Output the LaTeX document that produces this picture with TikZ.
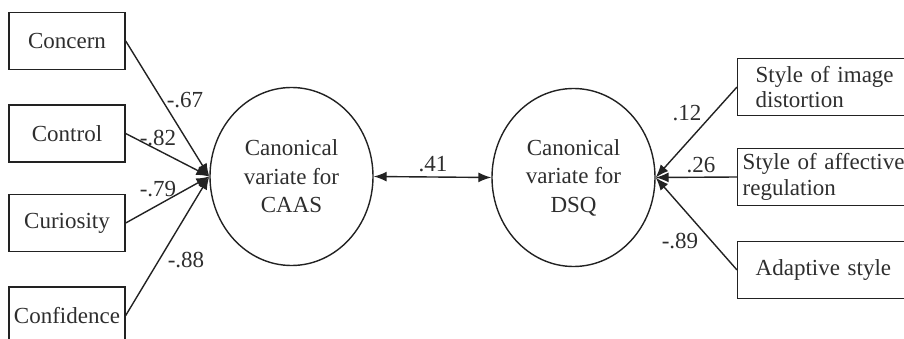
\documentclass[tikz,border=0pt]{standalone}
\usepackage{fontspec}
\setmainfont{Liberation Serif}
\usetikzlibrary{arrows.meta,shapes.geometric}
\definecolor{ink}{HTML}{222222}
\definecolor{txt}{HTML}{2E2E2E}
\tikzset{
  leftbox/.style={draw=ink, line width=1.4pt, minimum width=116pt, minimum height=57pt, inner sep=0pt, text=txt, font=\fontsize{23}{27}\selectfont},
  rightbox/.style={draw=ink, line width=1.4pt, anchor=west, minimum height=57pt, text width=185pt, align=left, inner ysep=0pt, text=txt, font=\fontsize{23}{25.5}\selectfont},
  latent/.style={draw=ink, line width=1.4pt, ellipse, inner sep=0pt, minimum width=163pt, minimum height=178pt, align=center, text=txt, font=\fontsize{23}{28.5}\selectfont},
  path/.style={draw=ink, line width=1.4pt, -{Latex[length=13pt,width=10pt]}},
  coef/.style={text=txt, inner sep=0pt, font=\fontsize{23}{27}\selectfont}
}
\begin{document}
\begin{tikzpicture}[x=1pt,y=-1pt]
\useasboundingbox (0,0) rectangle (904,339);
% left indicator boxes
\node[leftbox] (concern) at (67,41) {Concern};
\node[leftbox] (control) at (67,133.5) {Control};
\node[leftbox] (curiosity) at (67,223) {Curiosity};
\node[leftbox] (confidence) at (67,315.5) {Confidence};
% latent variates
\node[latent] (caas) at (291.5,176.5) {Canonical\\variate for\\CAAS};
\node[latent] (dsq) at (573.5,177.5) {Canonical\\variate for\\DSQ};
% right indicator boxes
\node[rightbox, inner xsep=18pt] (image) at (737,87) {Style of image\\distortion};
\node[rightbox, inner xsep=5pt] (affective) at (737,177) {Style of affective\\regulation};
\node[rightbox, inner xsep=18pt] (adaptive) at (737,270) {Adaptive style};
% paths
\draw[path] (concern.east) -- (caas.west);
\draw[path] (control.east) -- (caas.west);
\draw[path] (curiosity.east) -- (caas.west);
\draw[path] (confidence.east) -- (caas.west);
\draw[path] (image.west) -- (dsq.east);
\draw[path] (affective.west) -- (dsq.east);
\draw[path] (adaptive.west) -- (dsq.east);
\draw[draw=ink, line width=1.4pt, {Latex[length=13pt,width=10pt]}-{Latex[length=13pt,width=10pt]}] (caas.east) -- (dsq.west);
% coefficients
\node[coef] (c1) at (185,100) {-.67};
\node[coef] (c2) at (158,138) {-.82};
\node[coef] (c3) at (158,189) {-.79};
\node[coef] (c4) at (186,260) {-.88};
\node[coef] (c5) at (433,164) {.41};
\node[coef] (c6) at (687,113) {.12};
\node[coef] (c7) at (701,165) {.26};
\node[coef] (c8) at (680,241) {-.89};
\end{tikzpicture}
\end{document}
